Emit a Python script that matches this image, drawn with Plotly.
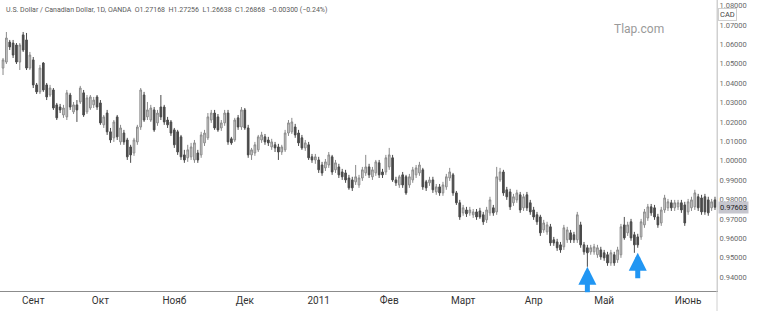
import plotly.graph_objects as go

# ---- data ----
opens = [1.0478,1.0509,1.0612,1.0607,1.0597,1.0509,1.0649,1.0623,1.0478,1.0520,
1.0391,1.0355,1.0504,1.0391,1.0339,1.0365,1.0288,1.0277,1.0236,1.0226,
1.0339,1.0252,1.0288,1.0303,1.0350,1.0252,1.0272,1.0288,1.0329,1.0298,
1.0185,1.0246,1.0149,1.0118,1.0226,1.0097,1.0143,1.0107,1.0071,1.0040,
1.0097,1.0174,1.0339,1.0226,1.0210,1.0262,1.0195,1.0277,1.0277,1.0210,
1.0200,1.0159,1.0149,1.0123,1.0030,1.0015,1.0020,1.0004,1.0040,1.0030,
1.0092,1.0118,1.0210,1.0246,1.0226,1.0169,1.0195,1.0246,1.0113,1.0107,
1.0221,1.0174,1.0262,1.0169,1.0030,1.0040,1.0056,1.0107,1.0123,1.0107,
1.0071,1.0082,1.0071,1.0045,1.0056,1.0143,1.0149,1.0174,1.0143,1.0118,
1.0066,1.0082,1.0020,1.0004,1.0004,0.9978,0.9963,0.9978,1.0020,0.9953,
0.9968,0.9942,0.9937,0.9911,0.9901,0.9891,0.9875,0.9911,0.9937,0.9968,
0.9917,0.9937,0.9989,0.9942,0.9942,0.9968,1.0015,0.9901,0.9875,0.9927,
0.9917,0.9875,0.9901,0.9927,0.9937,0.9953,0.9891,0.9886,0.9901,0.9839,
0.9865,0.9834,0.9865,0.9911,0.9927,0.9834,0.9783,0.9731,0.9746,0.9731,
0.9721,0.9736,0.9741,0.9721,0.9695,0.9731,0.9757,0.9736,0.9901,0.9942,
0.9850,0.9839,0.9783,0.9798,0.9824,0.9757,0.9824,0.9783,0.9746,0.9721,
0.9710,0.9643,0.9633,0.9659,0.9592,0.9581,0.9566,0.9556,0.9592,0.9628,
0.9618,0.9592,0.9669,0.9566,0.9551,0.9530,0.9530,0.9515,0.9540,0.9525,
0.9515,0.9473,0.9515,0.9489,0.9515,0.9669,0.9628,0.9685,0.9618,0.9607,
0.9607,0.9669,0.9705,0.9762,0.9757,0.9710,0.9679,0.9746,0.9757,0.9783,
0.9757,0.9762,0.9783,0.9772,0.9736,0.9757,0.9762,0.9814,0.9808,0.9814,
0.9798,0.9757,0.9798]

highs = [1.0530,1.0664,1.0623,1.0623,1.0607,1.0607,1.0664,1.0659,1.0561,1.0535,
1.0401,1.0494,1.0509,1.0401,1.0391,1.0375,1.0298,1.0293,1.0288,1.0365,
1.0350,1.0303,1.0313,1.0386,1.0365,1.0339,1.0339,1.0329,1.0339,1.0313,
1.0236,1.0262,1.0169,1.0210,1.0236,1.0185,1.0159,1.0118,1.0082,1.0118,
1.0185,1.0375,1.0355,1.0303,1.0288,1.0277,1.0262,1.0339,1.0288,1.0226,
1.0210,1.0169,1.0159,1.0133,1.0056,1.0082,1.0092,1.0107,1.0056,1.0149,
1.0159,1.0246,1.0262,1.0262,1.0241,1.0210,1.0262,1.0262,1.0123,1.0221,
1.0236,1.0277,1.0272,1.0185,1.0066,1.0097,1.0133,1.0149,1.0138,1.0123,
1.0113,1.0097,1.0087,1.0082,1.0159,1.0210,1.0221,1.0190,1.0159,1.0133,
1.0107,1.0097,1.0035,1.0035,1.0020,0.9994,1.0009,1.0045,1.0030,1.0004,
0.9984,0.9958,0.9953,0.9927,0.9917,0.9978,0.9927,0.9968,1.0030,0.9984,
0.9968,1.0004,1.0004,0.9958,1.0030,1.0066,1.0030,0.9917,0.9927,0.9942,
0.9927,0.9932,0.9968,0.9978,0.9994,0.9963,0.9901,0.9917,0.9917,0.9880,
0.9880,0.9891,0.9932,0.9963,0.9937,0.9844,0.9798,0.9772,0.9762,0.9762,
0.9751,0.9751,0.9757,0.9736,0.9762,0.9814,0.9772,0.9968,0.9963,0.9953,
0.9865,0.9855,0.9829,0.9850,0.9839,0.9829,0.9839,0.9798,0.9762,0.9736,
0.9721,0.9695,0.9685,0.9674,0.9607,0.9597,0.9581,0.9669,0.9659,0.9643,
0.9633,0.9736,0.9685,0.9581,0.9566,0.9566,0.9571,0.9566,0.9556,0.9540,
0.9530,0.9540,0.9530,0.9556,0.9674,0.9710,0.9685,0.9700,0.9633,0.9623,
0.9700,0.9751,0.9777,0.9777,0.9772,0.9726,0.9762,0.9824,0.9803,0.9798,
0.9798,0.9798,0.9798,0.9788,0.9803,0.9814,0.9850,0.9829,0.9824,0.9829,
0.9814,0.9803,0.9814]

lows = [1.0442,1.0499,1.0571,1.0530,1.0499,1.0468,1.0561,1.0468,1.0468,1.0375,
1.0344,1.0344,1.0355,1.0313,1.0329,1.0262,1.0210,1.0246,1.0221,1.0210,
1.0262,1.0241,1.0200,1.0293,1.0226,1.0241,1.0262,1.0272,1.0262,1.0185,
1.0169,1.0133,1.0092,1.0097,1.0107,1.0082,1.0082,1.0004,0.9989,1.0025,
1.0082,1.0159,1.0200,1.0210,1.0200,1.0149,1.0180,1.0210,1.0185,1.0169,
1.0128,1.0066,1.0030,1.0004,0.9989,0.9994,1.0004,0.9989,0.9989,1.0015,
1.0076,1.0107,1.0195,1.0159,1.0149,1.0154,1.0180,1.0082,1.0082,1.0097,
1.0159,1.0159,1.0159,1.0015,1.0004,1.0025,1.0045,1.0092,1.0082,1.0076,
1.0056,1.0045,1.0004,1.0030,1.0045,1.0128,1.0138,1.0118,1.0076,1.0056,
1.0051,1.0004,0.9989,0.9984,0.9937,0.9922,0.9947,0.9963,0.9927,0.9937,
0.9911,0.9901,0.9886,0.9850,0.9844,0.9875,0.9860,0.9896,0.9922,0.9911,
0.9901,0.9922,0.9911,0.9911,0.9927,0.9953,0.9891,0.9870,0.9860,0.9860,
0.9824,0.9860,0.9886,0.9911,0.9922,0.9850,0.9844,0.9870,0.9834,0.9824,
0.9819,0.9819,0.9850,0.9896,0.9819,0.9772,0.9695,0.9716,0.9710,0.9716,
0.9705,0.9695,0.9700,0.9669,0.9679,0.9716,0.9716,0.9721,0.9891,0.9819,
0.9798,0.9746,0.9767,0.9783,0.9731,0.9741,0.9741,0.9721,0.9695,0.9669,
0.9612,0.9628,0.9618,0.9561,0.9561,0.9535,0.9525,0.9540,0.9576,0.9576,
0.9576,0.9576,0.9551,0.9515,0.9453,0.9515,0.9515,0.9499,0.9489,0.9484,
0.9458,0.9458,0.9458,0.9473,0.9499,0.9592,0.9612,0.9587,0.9525,0.9551,
0.9592,0.9654,0.9690,0.9716,0.9695,0.9654,0.9664,0.9731,0.9741,0.9741,
0.9741,0.9746,0.9731,0.9664,0.9721,0.9741,0.9746,0.9741,0.9721,0.9721,
0.9716,0.9741,0.9746]

closes = [1.0520,1.0633,1.0587,1.0545,1.0509,1.0597,1.0571,1.0478,1.0545,1.0391,
1.0355,1.0478,1.0365,1.0329,1.0375,1.0272,1.0221,1.0262,1.0272,1.0350,
1.0277,1.0288,1.0262,1.0375,1.0236,1.0324,1.0329,1.0313,1.0277,1.0195,
1.0226,1.0149,1.0107,1.0200,1.0123,1.0169,1.0097,1.0020,1.0030,1.0107,
1.0174,1.0365,1.0210,1.0262,1.0272,1.0159,1.0246,1.0226,1.0200,1.0185,
1.0143,1.0082,1.0045,1.0020,1.0004,1.0056,1.0071,1.0092,1.0004,1.0133,
1.0143,1.0226,1.0246,1.0169,1.0159,1.0195,1.0246,1.0097,1.0092,1.0210,
1.0174,1.0262,1.0169,1.0030,1.0056,1.0082,1.0123,1.0133,1.0097,1.0092,
1.0097,1.0066,1.0045,1.0071,1.0143,1.0195,1.0200,1.0133,1.0092,1.0066,
1.0092,1.0015,1.0004,1.0020,0.9953,0.9937,0.9994,1.0030,0.9942,0.9989,
0.9927,0.9917,0.9901,0.9860,0.9860,0.9917,0.9911,0.9953,0.9968,0.9927,
0.9953,0.9994,0.9927,0.9927,1.0015,1.0030,0.9901,0.9886,0.9917,0.9875,
0.9834,0.9917,0.9953,0.9963,0.9978,0.9865,0.9860,0.9901,0.9850,0.9865,
0.9834,0.9875,0.9917,0.9942,0.9834,0.9783,0.9710,0.9757,0.9726,0.9746,
0.9736,0.9710,0.9710,0.9685,0.9746,0.9798,0.9731,0.9917,0.9942,0.9834,
0.9814,0.9762,0.9814,0.9834,0.9746,0.9814,0.9757,0.9736,0.9710,0.9685,
0.9628,0.9679,0.9669,0.9576,0.9576,0.9551,0.9540,0.9654,0.9643,0.9592,
0.9592,0.9721,0.9566,0.9530,0.9525,0.9551,0.9556,0.9551,0.9504,0.9499,
0.9473,0.9525,0.9473,0.9540,0.9659,0.9602,0.9669,0.9602,0.9566,0.9566,
0.9685,0.9736,0.9762,0.9731,0.9710,0.9669,0.9746,0.9808,0.9788,0.9757,
0.9783,0.9783,0.9746,0.9679,0.9788,0.9798,0.9834,0.9757,0.9736,0.9736,
0.9731,0.9788,0.9760]

month_bars = [9, 29, 51, 72, 94, 115, 137, 158, 179, 204]
month_labels = ["Сент", "Окт", "Нояб", "Дек", "2011", "Фев", "Март", "Апр", "Май", "Июнь"]

arrow_bars = [174, 189]
arrow_tips = [0.9453, 0.9525]

last_price = 0.97603
price_ticks = [0.94, 0.95, 0.96, 0.97, 0.98, 0.99, 1.00, 1.01, 1.02, 1.03, 1.04, 1.05, 1.06, 1.07, 1.08]

header = ("U.S. Dollar / Canadian Dollar, 1D, OANDA  O1.27168  H1.27256  "
          "L1.26638  C1.26868  −0.00300 (−0.24%)")

bars = list(range(len(closes)))

FONT = "Roboto, 'Liberation Sans', Arial, sans-serif"

fig = go.Figure(go.Candlestick(
    x=bars, open=opens, high=highs, low=lows, close=closes,
    increasing=dict(line=dict(color="#8a8a8a", width=1), fillcolor="#d4d4d4"),
    decreasing=dict(line=dict(color="#4a4a4a", width=1), fillcolor="#4a4a4a"),
    whiskerwidth=0, hoverinfo="skip", showlegend=False,
))

fig.update_layout(
    width=757, height=311,
    margin=dict(l=0, r=40, t=0, b=20),
    paper_bgcolor="white", plot_bgcolor="white",
    font=dict(family=FONT),
    showlegend=False,
    xaxis=dict(
        range=[-0.9, 212.6], rangeslider=dict(visible=False),
        tickmode="array", tickvals=month_bars, ticktext=month_labels,
        tickfont=dict(size=10, color="#333333", family=FONT),
        showgrid=False, zeroline=False, ticks="",
        showline=True, linecolor="#8c8c8c", linewidth=1,
    ),
    yaxis=dict(
        side="right", range=[0.9328, 1.0829],
        tickmode="array", tickvals=price_ticks,
        ticktext=[f"{v:.5f}" for v in price_ticks],
        tickfont=dict(size=7.5, color="#6a6a6a", family=FONT),
        showgrid=False, zeroline=False, ticks="",
        showline=True, linecolor="#d0d0d0", linewidth=1,
    ),
)

annotations = []
for b, tip in zip(arrow_bars, arrow_tips):
    annotations.append(dict(
        x=b, y=tip, xref="x", yref="y", text="", showarrow=True,
        ax=0, ay=27, arrowhead=2, arrowsize=0.72, arrowwidth=5,
        arrowcolor="#2196F3",
    ))

annotations += [
    dict(x=0, y=1, xref="paper", yref="paper", xanchor="left", yanchor="top",
         xshift=4, yshift=-4, text=header, showarrow=False,
         font=dict(size=7, color="#5a5a5a", family=FONT)),
    dict(x=666 / 717, y=(291 - 20) / 291, xref="paper", yref="paper",
         text="Tlap.com", showarrow=False,
         font=dict(size=12, color="#9a9a9a", family=FONT)),
    dict(x=1, y=last_price, xref="paper", yref="y", xanchor="left",
         xshift=1, text=f"{last_price:.5f}", showarrow=False,
         bgcolor="#c6c6ce", borderpad=1,
         font=dict(size=7.5, color="#222222", family=FONT)),
    dict(x=737 / 717, y=(291 - 8) / 291, xref="paper", yref="paper",
         text="CAD", showarrow=False, bgcolor="white", bordercolor="#cfcfcf",
         borderwidth=1, borderpad=1,
         font=dict(size=7.5, color="#444444", family=FONT)),
]
fig.update_layout(annotations=annotations)

fig.add_shape(type="line", xref="paper", yref="paper", x0=1, x1=1, y0=-20 / 291, y1=1,
              line=dict(color="#d0d0d0", width=1))

fig.write_html("out.html")
